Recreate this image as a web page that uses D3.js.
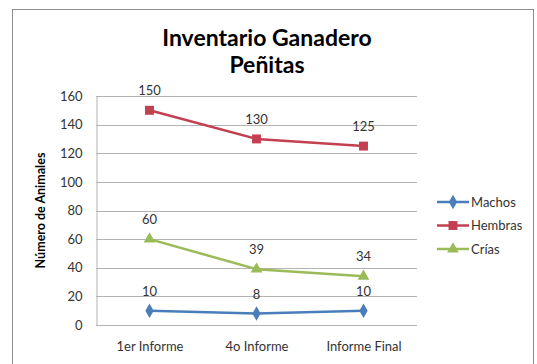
<!DOCTYPE html>
<html><head><meta charset="utf-8">
<script src="https://cdn.jsdelivr.net/npm/d3@7"></script>
<style>
html,body{margin:0;padding:0;background:#fff;}
svg{display:block;font-family:Lato,"Open Sans",sans-serif;}
</style></head>
<body>
<svg id="chart" width="537" height="364"></svg>
<script>
const categories = ["1er Informe", "4o Informe", "Informe Final"];
const machos = [10, 8, 10];
const hembras = [150, 130, 125];
const crias = [60, 39, 34];
const yTicks = [0, 20, 40, 60, 80, 100, 120, 140, 160];
const seriesNames = ["Machos", "Hembras", "Crías"];
const seriesColors = ["#4A7EBB", "#C33F52", "#9BBB59"];
const seriesShapes = [d3.symbolDiamond, d3.symbolSquare, d3.symbolTriangle];

const series = [machos, hembras, crias].map((vals, i) => ({
  name: seriesNames[i], color: seriesColors[i], shape: seriesShapes[i], values: vals
}));

const svg = d3.select("#chart");
const margin = {left: 96, right: 417, top: 96, bottom: 325};

// chart frame
svg.append("rect").attr("x", 12.5).attr("y", 9.5).attr("width", 521).attr("height", 370)
  .attr("fill", "#fff").attr("stroke", "#8c8c8c").attr("stroke-width", 1);

const x = d3.scalePoint().domain(categories).range([margin.left, margin.right]).padding(0.5);
const y = d3.scaleLinear().domain([0, 160]).range([margin.bottom, margin.top]);

// title
const title = svg.append("text").attr("text-anchor", "middle").attr("font-weight", "bold")
  .attr("font-size", 23).attr("fill", "#000");
title.append("tspan").attr("x", 267).attr("y", 46).text("Inventario Ganadero");
title.append("tspan").attr("x", 267).attr("y", 73).text("Peñitas");

// gridlines
svg.append("g").selectAll("line").data(yTicks).join("line")
  .attr("x1", margin.left).attr("x2", margin.right)
  .attr("y1", d => Math.round(y(d)) + 0.5).attr("y2", d => Math.round(y(d)) + 0.5)
  .attr("stroke", "#b3b3b3").attr("stroke-width", 1);

// y axis
const yAxis = svg.append("g").attr("transform", `translate(${margin.left + 0.5},0)`)
  .call(d3.axisLeft(y).tickValues(yTicks).tickSize(0).tickPadding(14));
yAxis.select(".domain").attr("stroke", "#b3b3b3");
yAxis.selectAll("text").attr("font-size", 13).attr("fill", "#333").attr("font-family", "Lato,sans-serif");

// x axis
const xAxis = svg.append("g").attr("transform", `translate(0,${Math.round(y(0)) + 0.5})`)
  .call(d3.axisBottom(x).tickSize(0).tickPadding(16));
xAxis.select(".domain").remove();
xAxis.selectAll("text").attr("font-size", 13).attr("fill", "#333").attr("font-family", "Lato,sans-serif");

// y axis label
svg.append("text").attr("transform", `translate(45,${(margin.top + margin.bottom) / 2}) rotate(-90)`)
  .attr("text-anchor", "middle").attr("font-size", 12.5).attr("font-weight", "bold").attr("fill", "#000")
  .text("Número de Animales");

// lines, markers, labels
const line = d3.line().x((d, i) => x(categories[i])).y(d => y(d));
series.forEach(s => {
  const g = svg.append("g");
  g.append("path").datum(s.values).attr("d", line).attr("fill", "none")
    .attr("stroke", s.color).attr("stroke-width", 2.5);
  g.selectAll("path.m").data(s.values).join("path").attr("class", "m")
    .attr("transform", (d, i) => `translate(${x(categories[i])},${y(d)})`)
    .attr("d", d3.symbol().type(s.shape).size(s.shape === d3.symbolSquare ? 80 : 60))
    .attr("fill", s.color);
  g.selectAll("text").data(s.values).join("text")
    .attr("x", (d, i) => x(categories[i])).attr("y", d => y(d) - 15)
    .attr("text-anchor", "middle").attr("font-size", 13).attr("fill", "#333")
    .text(d => d);
});

// legend
const legend = svg.append("g");
series.forEach((s, i) => {
  const ly = 202 + i * 23.5;
  legend.append("line").attr("x1", 437).attr("x2", 469).attr("y1", ly).attr("y2", ly)
    .attr("stroke", s.color).attr("stroke-width", 2.5);
  legend.append("path").attr("transform", `translate(453,${ly})`)
    .attr("d", d3.symbol().type(s.shape).size(s.shape === d3.symbolSquare ? 80 : 60)).attr("fill", s.color);
  legend.append("text").attr("x", 471).attr("y", ly + 4.5).attr("font-size", 13).attr("fill", "#333")
    .text(s.name);
});
</script>
</body></html>
